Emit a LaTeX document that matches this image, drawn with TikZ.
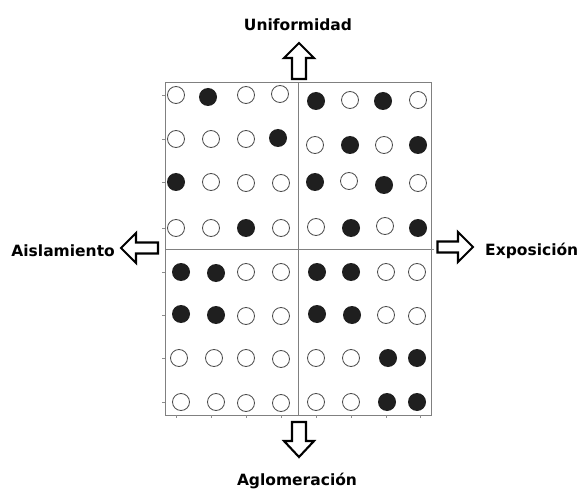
\documentclass[tikz,border=0pt]{standalone}
\usepackage{fontspec}
\setmainfont{DejaVu Sans}
\begin{document}
\begin{tikzpicture}[x=1pt,y=-1pt,
  frame/.style={draw=black!50,line width=0.8pt},
  tick/.style={draw=black!45,line width=0.5pt},
  dotopen/.style={circle,draw=black!70,line width=0.8pt,minimum size=17pt,inner sep=0pt},
  dotfill/.style={circle,fill=black!88,minimum size=18pt,inner sep=0pt},
  blockarrow/.style={draw=black,line width=2.1pt,line join=miter,fill=white},
  lab/.style={font=\bfseries\fontsize{15.5}{18}\selectfont,inner sep=0pt}]
\useasboundingbox (0,0) rectangle (578,489);
% title line, cut off above the picture
\begin{scope}
\clip (0,0) rectangle (578,489);
\node[overlay,anchor=base,inner sep=0pt,font=\fontsize{26}{30}\selectfont] (title) at (290,-10.5) {Dimensiones y ejes de la segregación};
\end{scope}
% frame
\draw[frame] (165,82) rectangle (431,415);
\draw[frame] (298,82) -- (298,415);
\draw[frame] (165,249) -- (432,249);
% ticks
\foreach \yy in {95,139,182,228,272,315,358,402} \draw[tick] (162,\yy) -- (165,\yy);
\foreach \xx in {176,211,246,281,316,351,386,420} \draw[tick] (\xx,415) -- (\xx,418);
\draw[tick] (431,249) -- (434,249);
% circles: x, y, filled(1)/open(0), name
\foreach \xx/\yy/\ff/\nm in {
  176/95/0/a11, 208/97/1/a12, 246/95/0/a13, 280/94/0/a14,
  176/139/0/a21, 211/139/0/a22, 246/139/0/a23, 278/138/1/a24,
  176/182/1/a31, 211/182/0/a32, 246/183/0/a33, 281/183/0/a34,
  176/228/0/a41, 211/228/0/a42, 246/228/1/a43, 281/228/0/a44,
  316/101/1/b11, 350/100/0/b12, 383/101/1/b13, 418/100/0/b14,
  315/145/0/b21, 350/145/1/b22, 384/145/0/b23, 418/145/1/b24,
  315/182/1/b31, 349/181/0/b32, 384/185/1/b33, 418/183/0/b34,
  316/227/0/b41, 351/228/1/b42, 385/226/0/b43, 418/228/1/b44,
  181/272/1/c11, 216/273/1/c12, 246/272/0/c13, 281/272/0/c14,
  181/314/1/c21, 216/315/1/c22, 246/316/0/c23, 281/316/0/c24,
  179/358/0/c31, 214/358/0/c32, 246/358/0/c33, 281/359/0/c34,
  181/402/0/c41, 216/402/0/c42, 246/403/0/c43, 281/403/0/c44,
  317/272/1/d11, 351/272/1/d12, 386/272/0/d13, 417/272/0/d14,
  317/314/1/d21, 352/315/1/d22, 386/315/0/d23, 417/316/0/d24,
  316/358/0/d31, 351/358/0/d32, 388/358/1/d33, 417/358/1/d34,
  316/402/0/d41, 351/402/0/d42, 387/402/1/d43, 417/402/1/d44} {
  \ifnum\ff=1
    \node[dotfill] (\nm) at (\xx,\yy) {};
  \else
    \node[dotopen] (\nm) at (\xx,\yy) {};
  \fi
}
% block arrows
\draw[blockarrow] (299,43) -- (314,58) -- (306,58) -- (306,79) -- (292,79) -- (292,58) -- (284,58) -- cycle;
\draw[blockarrow] (299,457) -- (314,441) -- (306,441) -- (306,422) -- (292,422) -- (292,441) -- (284,441) -- cycle;
\draw[blockarrow] (121,248) -- (136,233) -- (136,242.5) -- (158,242.5) -- (158,253.5) -- (136,253.5) -- (136,263) -- cycle;
\draw[blockarrow] (473,247) -- (458,232) -- (458,241.5) -- (437.5,241.5) -- (437.5,252.5) -- (458,252.5) -- (458,262) -- cycle;
% labels
\node[lab,anchor=base] (uni) at (298,31) {Uniformidad};
\node[lab,anchor=base east] (ais) at (115,256) {Aislamiento};
\node[lab,anchor=base west] (exp) at (485,255) {Exposición};
\node[lab,anchor=base] (agl) at (297,485) {Aglomeración};
\end{tikzpicture}
\end{document}
